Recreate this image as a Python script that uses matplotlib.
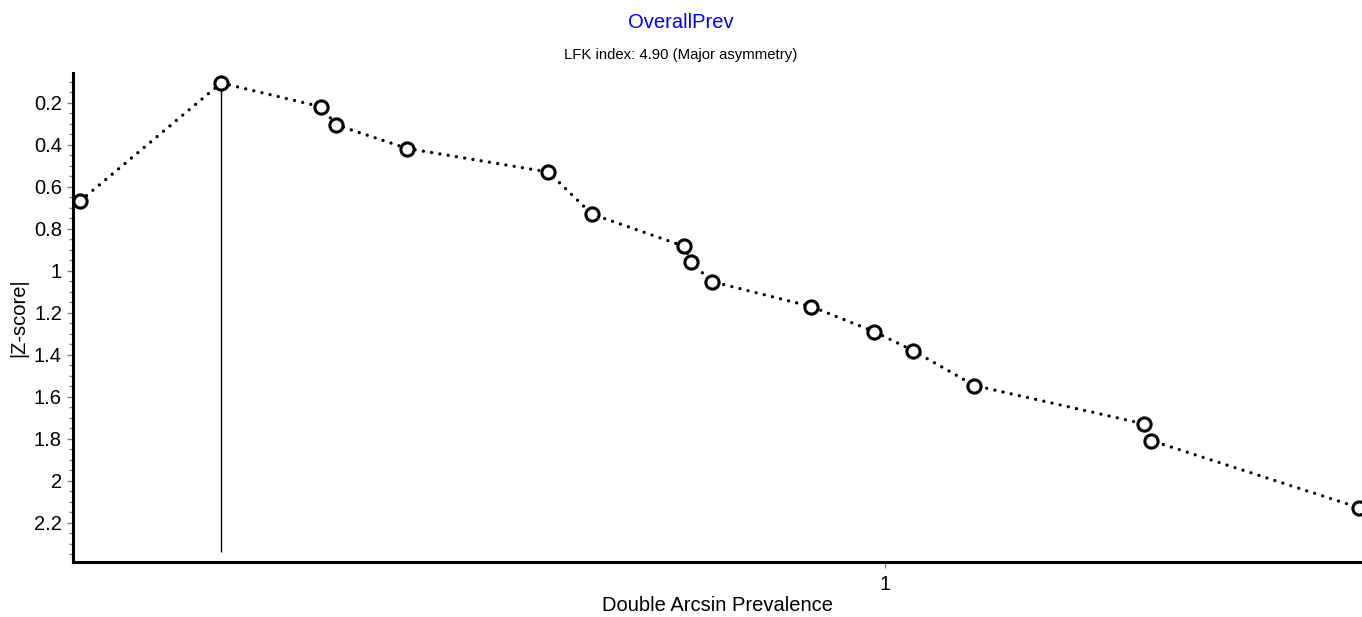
import numpy as np
import matplotlib
matplotlib.use("Agg")
from matplotlib import pyplot as plt
from matplotlib.ticker import MultipleLocator, FixedLocator

plt.rcParams['font.family'] = ['Liberation Sans', 'DejaVu Sans']

# datos
prevalencia = [0.053, 0.219, 0.337, 0.354, 0.438, 0.604, 0.655, 0.764, 0.772,
               0.796, 0.913, 0.987, 1.033, 1.105, 1.305, 1.313, 1.557]
zScore = [0.668, 0.106, 0.220, 0.305, 0.418, 0.530, 0.730, 0.884, 0.960,
          1.051, 1.170, 1.289, 1.380, 1.546, 1.729, 1.808, 2.127]
xTicks = [1]
yTicks = [0.2, 0.4, 0.6, 0.8, 1.0, 1.2, 1.4, 1.6, 1.8, 2.0, 2.2]
lfk = 4.90

fig = plt.figure(figsize=(13.62, 6.17), dpi=100)
ax = fig.add_axes([73/1362, 55/617, 1 - 73/1362, (562-73)/617])

# linea punteada y puntos
ax.plot(prevalencia, zScore, color="black", linewidth=2.4,
        linestyle=(0, (0.01, 2.5)), dash_capstyle="round", zorder=2)
ax.plot(prevalencia, zScore, linestyle="none", marker="o", markersize=9.5,
        markerfacecolor="white", markeredgecolor="black", markeredgewidth=2.2,
        zorder=3, clip_on=False)

# linea vertical en el punto con menor |Z|
iMin = int(np.argmin(zScore))
ax.vlines(prevalencia[iMin], zScore[iMin], 2.34, color="black", linewidth=1, zorder=1)

ax.set_xlim(0.0447, 1.561)
ax.set_ylim(2.386, 0.0586)

ax.xaxis.set_major_locator(FixedLocator(xTicks))
ax.set_xticklabels([str(t) for t in xTicks])
ax.yaxis.set_major_locator(FixedLocator(yTicks))
ax.set_yticklabels(["%g" % t for t in yTicks])
ax.yaxis.set_minor_locator(MultipleLocator(0.05))

for s in ["top", "right"]:
    ax.spines[s].set_visible(False)
for s in ["left", "bottom"]:
    ax.spines[s].set_linewidth(2.2)
    ax.spines[s].set_color("black")

ax.tick_params(axis="both", which="major", length=4, width=1, color="gray",
               labelsize=14.5)
ax.tick_params(axis="x", which="major", pad=5)
ax.tick_params(axis="y", which="major", pad=4)
ax.tick_params(axis="y", which="minor", length=3, width=1, color="gray")

ax.set_xlabel("Double Arcsin Prevalence", fontsize=14.5, labelpad=2)
ax.set_ylabel("|Z-score|", fontsize=14.5, labelpad=4)

fig.text(0.5, 1 - 22/617, "OverallPrev", color="blue", fontsize=14.5,
         ha="center", va="center")
fig.text(0.5, 1 - 55/617, "LFK index: %.2f (Major asymmetry)" % lfk,
         fontsize=10.7, ha="center", va="center")

fig.savefig("out.png", dpi=100)
